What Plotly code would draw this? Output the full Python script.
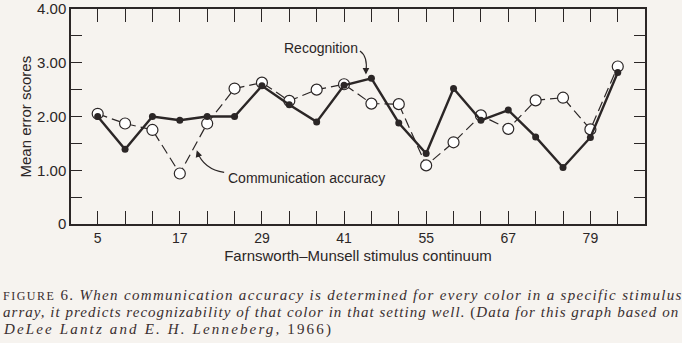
import plotly.graph_objects as go

# ---- data ----
tick_labels = ["5", "", "", "17", "", "", "29", "", "", "41", "", "", "55", "", "", "67", "", "", "79", ""]
positions = list(range(len(tick_labels)))
recognition = [2.00, 1.39, 2.00, 1.93, 2.00, 2.00, 2.57, 2.22, 1.90, 2.58, 2.71, 1.88, 1.31,
               2.52, 1.93, 2.12, 1.62, 1.05, 1.61, 2.82]
communication = [2.05, 1.87, 1.75, 0.94, 1.87, 2.52, 2.63, 2.29, 2.50, 2.60, 2.24, 2.23, 1.09,
                 1.52, 2.02, 1.77, 2.30, 2.35, 1.76, 2.93]
y_tickvals = [0, 0.5, 1, 1.5, 2, 2.5, 3, 3.5, 4]
y_ticktext = ["0", "", "1.00", "", "2.00", "", "3.00", "", "4.00"]

BG = "#f6f3ef"
INK = "#2b2626"
CAP = "#3a2f2f"
SANS = "Liberation Sans, Arial, sans-serif"
SERIF = "Liberation Serif, Times New Roman, serif"

fig = go.Figure()
fig.add_trace(go.Scatter(
    x=positions, y=communication, mode="lines+markers",
    line=dict(color=INK, width=1.2, dash="10px,5px"),
    marker=dict(symbol="circle", size=11, color="#ffffff", line=dict(color=INK, width=1.2)),
    showlegend=False, cliponaxis=False))
fig.add_trace(go.Scatter(
    x=positions, y=recognition, mode="lines+markers",
    line=dict(color=INK, width=2.4),
    marker=dict(symbol="circle", size=7, color=INK),
    showlegend=False, cliponaxis=False))

axis_common = dict(showline=True, linecolor=INK, linewidth=1.5, mirror="ticks",
                   ticks="inside", tickcolor=INK, tickwidth=1.3, showgrid=False, zeroline=False,
                   automargin=False, ticklabeloverflow="allow")

fig.update_xaxes(range=[-0.975, 19.995], tickvals=positions, ticktext=tick_labels, ticklen=13,
                 tickfont=dict(family=SANS, size=14, color=INK),
                 title=dict(text="Farnsworth\u2013Munsell stimulus continuum",
                            font=dict(family=SANS, size=15, color=INK), standoff=6),
                 **axis_common)
fig.update_yaxes(range=[0, 4], tickvals=y_tickvals, ticktext=y_ticktext, ticklen=11,
                 tickfont=dict(family=SANS, size=15, color=INK),
                 **axis_common)
fig.add_annotation(x=(25 - 71) / 574, y=0.5, xref="paper", yref="paper", text="Mean error scores",
                   textangle=-90, showarrow=False, xanchor="center", yanchor="middle",
                   font=dict(family=SANS, size=15, color=INK))

# annotation labels with curved pointers
fig.add_annotation(x=9.58, y=3.28, xref="x", yref="y", text="Recognition", showarrow=False,
                   xanchor="right", yanchor="middle", font=dict(family=SANS, size=14, color=INK))
fig.add_annotation(x=4.7, y=0.85, xref="x", yref="y", text="Communication accuracy",
                   showarrow=False, xanchor="left", yanchor="middle",
                   font=dict(family=SANS, size=14, color=INK))
fig.add_shape(type="path", xref="x", yref="y", path="M 9.58,3.22 Q 9.88,3.12 9.80,2.82",
              line=dict(color=INK, width=1.1))
fig.add_shape(type="path", xref="x", yref="y", path="M 4.62,0.96 Q 3.88,1.02 3.64,1.34",
              line=dict(color=INK, width=1.1))
fig.add_annotation(x=9.80, y=2.78, ax=9.80, ay=2.9, xref="x", yref="y", axref="x", ayref="y",
                   text="", showarrow=True, arrowhead=2, arrowsize=1.2, arrowwidth=1.1, arrowcolor=INK)
fig.add_annotation(x=3.62, y=1.37, ax=3.72, ay=1.22, xref="x", yref="y", axref="x", ayref="y",
                   text="", showarrow=True, arrowhead=2, arrowsize=1.2, arrowwidth=1.1, arrowcolor=INK)

caption = [
    ("<span style='font-size:12px;letter-spacing:1.5px'>FIGURE</span> 6. <i>When communication accuracy is determined for every color in a specific stimulus</i>", 1.33),
    ("<i>array, it predicts recognizability of that color in that setting well.</i> (<i>Data for this graph based on</i>", 1.04),
    ("<i>DeLee Lantz and E. H. Lenneberg,</i> 1966)", 2.15),
]
ys = [295, 312, 329]
plot_h = 343 - 9 - 119
for (line, ls), ypx in zip(caption, ys):
    fig.add_annotation(x=(1 - 71) / 574, y=(224 - ypx) / plot_h, xref="paper", yref="paper",
                       text=f"<span style='letter-spacing:{ls}px'>{line}</span>",
                       showarrow=False, xanchor="left", yanchor="middle", align="left",
                       font=dict(family=SERIF, size=15, color=CAP))

fig.update_layout(width=682, height=343, margin=dict(l=71, r=37, t=9, b=119),
                  paper_bgcolor=BG, plot_bgcolor=BG)
fig.write_html("out.html")
